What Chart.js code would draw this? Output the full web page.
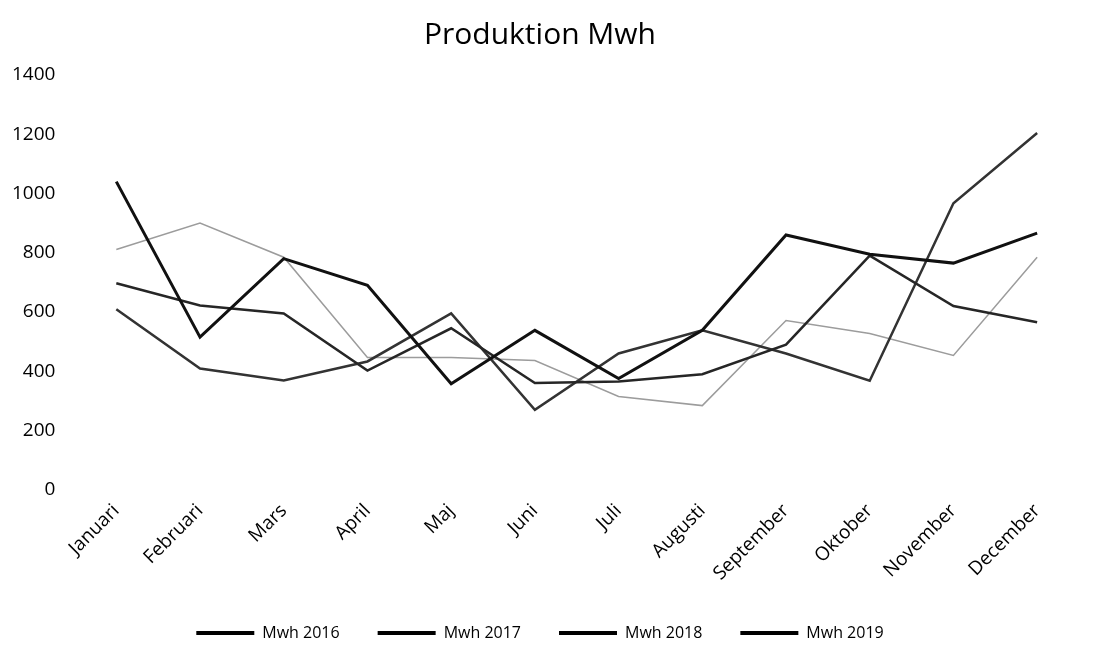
<!DOCTYPE html>
<html>
<head>
<meta charset="utf-8">
<script src="https://cdn.jsdelivr.net/npm/chart.js@4/dist/chart.umd.min.js"></script>
<style>
  html, body { margin: 0; padding: 0; background: #fff; }
  #wrap { width: 1099px; height: 651px; position: relative; }
</style>
</head>
<body>
<div id="wrap"><canvas id="prodChart"></canvas></div>
<script>
// values (MWh per month)
const months = ['Januari', 'Februari', 'Mars', 'April', 'Maj', 'Juni', 'Juli',
  'Augusti', 'September', 'Oktober', 'November', 'December'];
const mwh2016 = [1040, 515, 780, 690, 358, 538, 375, 538, 860, 795, 765, 866];
const mwh2017 = [697, 622, 595, 402, 545, 360, 365, 390, 490, 790, 620, 565];
const mwh2018 = [609, 409, 369, 433, 595, 270, 460, 538, 460, 368, 967, 1204];
const mwh2019 = [811, 900, 785, 446, 446, 436, 315, 284, 571, 527, 453, 785];
const seriesNames = ['Mwh 2016', 'Mwh 2017', 'Mwh 2018', 'Mwh 2019'];
const yTicks = [0, 200, 400, 600, 800, 1000, 1200, 1400];

const FONT = "'Open Sans', 'Noto Sans', sans-serif";

const line = (label, data, color, width) => ({
  label, data,
  borderColor: color,
  backgroundColor: color,
  borderWidth: width,
  pointRadius: 0,
  tension: 0,
  fill: false,
});

const ctx = document.getElementById('prodChart').getContext('2d');
new Chart(ctx, {
  type: 'line',
  data: {
    labels: months,
    datasets: [
      line(seriesNames[0], mwh2016, '#111111', 3),
      line(seriesNames[1], mwh2017, '#262626', 2.5),
      line(seriesNames[2], mwh2018, '#333333', 2.5),
      line(seriesNames[3], mwh2019, '#9c9c9c', 1.5),
    ]
  },
  options: {
    responsive: true,
    maintainAspectRatio: false,
    animation: false,
    layout: { padding: { left: 1, right: 20, top: 10, bottom: 0 } },
    plugins: {
      title: {
        display: true,
        text: 'Produktion Mwh',
        color: '#000',
        font: { family: FONT, size: 30, weight: 'normal' },
        padding: { top: 7, bottom: 22 }
      },
      legend: {
        position: 'bottom',
        labels: {
          font: { family: FONT, size: 16 },
          color: '#000',
          boxWidth: 58,
          boxHeight: 4,
          padding: 38,
          generateLabels: chart =>
            Chart.defaults.plugins.legend.labels.generateLabels(chart).map(l => ({
              ...l, fillStyle: '#000', strokeStyle: '#000', lineWidth: 0
            }))
        }
      },
      tooltip: { enabled: false }
    },
    scales: {
      x: {
        offset: true,
        grid: { display: false },
        border: { display: false },
        // the rotated first label may hang over the left edge, like in Excel
        afterFit: scale => { scale.paddingLeft = 0; scale.paddingRight = 0; },
        ticks: {
          color: '#000',
          font: { family: FONT, size: 19 },
          minRotation: 45,
          maxRotation: 45,
          padding: 2
        }
      },
      y: {
        min: 0,
        max: 1400,
        afterBuildTicks: axis => { axis.ticks = yTicks.map(v => ({ value: v })); },
        grid: { display: false },
        border: { display: false },
        ticks: {
          color: '#000',
          font: { family: FONT, size: 19 },
          padding: 11,
          callback: v => String(v)
        }
      }
    }
  }
});
</script>
</body>
</html>
